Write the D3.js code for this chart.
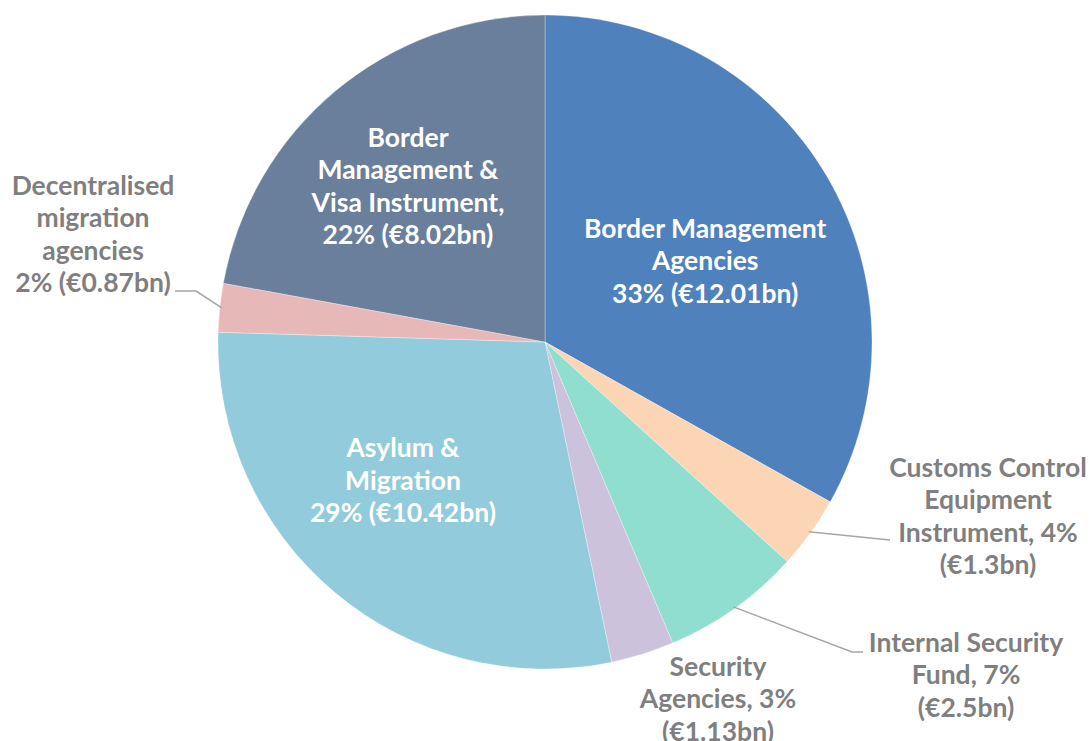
<html>

<head>
  <meta charset="utf-8">
  <title>Border and migration funding</title>
  <script src="https://d3js.org/d3.v7.min.js"></script>
  <style>
    body {
      margin: 0;
      background: #fff;
    }

    text {
      font-family: Lato, "Open Sans", sans-serif;
      font-weight: bold;
      font-size: 26.5px;
    }
  </style>
</head>

<body>
  <svg id="pie" width="1091" height="741"></svg>

  <script>
    // data
    const names = [
      "Border Management Agencies",
      "Customs Control Equipment Instrument",
      "Internal Security Fund",
      "Security Agencies",
      "Asylum & Migration",
      "Decentralised migration agencies",
      "Border Management & Visa Instrument"
    ];
    const values = [12.01, 1.3, 2.5, 1.13, 10.42, 0.87, 8.02];
    const labelLines = [
      ["Border Management", "Agencies", "33% (€12.01bn)"],
      ["Customs Control", "Equipment", "Instrument, 4%", "(€1.3bn)"],
      ["Internal Security", "Fund, 7%", "(€2.5bn)"],
      ["Security", "Agencies, 3%", "(€1.13bn)"],
      ["Asylum &", "Migration", "29% (€10.42bn)"],
      ["Decentralised", "migration", "agencies", "2% (€0.87bn)"],
      ["Border", "Management &", "Visa Instrument,", "22% (€8.02bn)"]
    ];
    const colors = ["#4f81bd", "#fcd5b5", "#8fded0", "#ccc2dc", "#92cbdb", "#e6b9b8", "#6a7f9c"];

    // label placement: inside labels sit at a fraction of the radius along the mid angle,
    // outside labels are given as offsets from the centre (in px) with an optional leader line
    const labelLayout = [
      { inside: true, rf: 0.55, dx: 5, dy: 10 },
      { inside: false, x: 443, y: 174, leader: [[345, 198]] },
      { inside: false, x: 421, y: 333, leader: [[307, 310], [318, 310]] },
      { inside: false, x: 173, y: 357 },
      { inside: true, rf: 0.6, dx: -16, dy: -12 },
      { inside: false, x: -452, y: -108, leader: [[-349, -51], [-370, -51]] },
      { inside: true, rf: 0.64, dx: -3, dy: 5 }
    ];

    const svg = d3.select("svg#pie");
    const cx = 545, cy = 342, radius = 327;
    const lineHeight = 32.5;

    const g = svg.append("g").attr("transform", `translate(${cx},${cy})`);

    const pie = d3.pie().sort(null).value(d => d)(values);
    const arc = d3.arc().innerRadius(0).outerRadius(radius);

    g.selectAll("path.slice").data(pie)
      .join("path")
      .attr("class", "slice")
      .attr("d", arc)
      .attr("fill", (d, i) => colors[i])
      .attr("stroke", "#ffffff")
      .attr("stroke-opacity", 0.4)
      .attr("stroke-width", 0.8);

    const midAngle = d => (d.startAngle + d.endAngle) / 2;
    const polar = (a, r) => [Math.sin(a) * r, -Math.cos(a) * r];

    // leader lines
    pie.forEach((d, i) => {
      let lay = labelLayout[i];
      if (!lay.leader) return;
      let pts = [polar(midAngle(d), radius - 2)].concat(lay.leader);
      g.append("path")
        .attr("d", d3.line()(pts))
        .attr("fill", "none")
        .attr("stroke", "#a6a6a6")
        .attr("stroke-width", 1.5);
    });

    // labels
    pie.forEach((d, i) => {
      let lay = labelLayout[i];
      let lines = labelLines[i];
      let x, y;
      if (lay.inside) {
        let p = polar(midAngle(d), radius * lay.rf);
        x = p[0] + lay.dx;
        y = p[1] + lay.dy;
      } else {
        x = lay.x;
        y = lay.y;
      }
      let t = g.append("text")
        .attr("text-anchor", "middle")
        .attr("fill", lay.inside ? "#ffffff" : "#7f7f7f");
      let top = y - (lines.length - 1) * lineHeight / 2;
      lines.forEach((line, k) => {
        t.append("tspan")
          .attr("x", x)
          .attr("y", top + k * lineHeight)
          .attr("dy", "0.35em")
          .text(line);
      });
    });
  </script>
</body>

</html>
